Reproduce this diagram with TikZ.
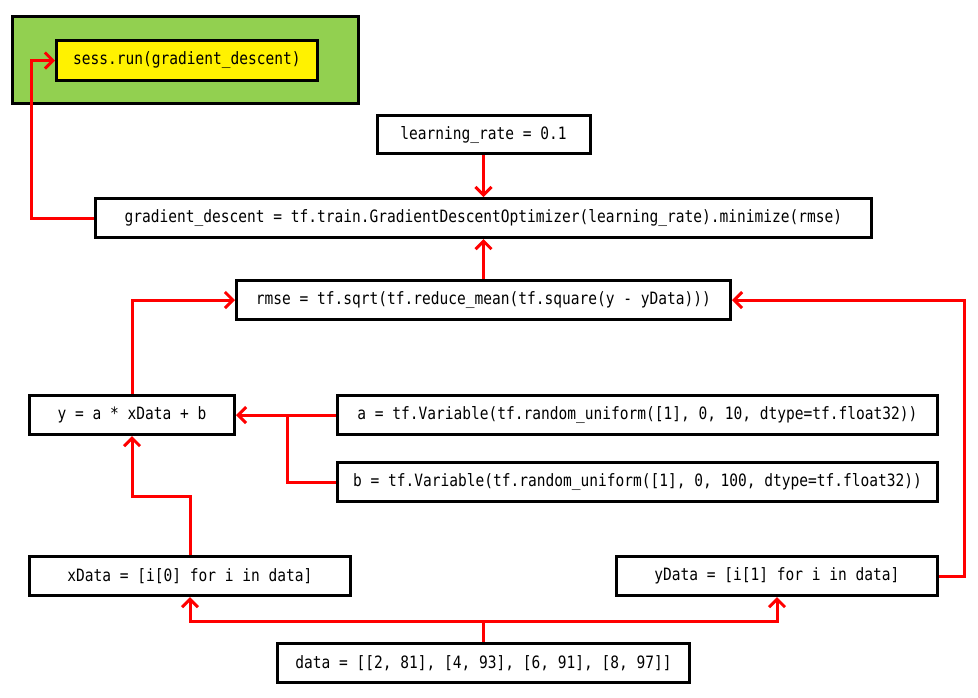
\documentclass[tikz,border=0pt]{standalone}
\usepackage{fontspec}
\setmainfont[FakeStretch=0.855]{DejaVu Sans Mono}
\usetikzlibrary{arrows.meta}
\definecolor{boxgreen}{RGB}{146,208,80}
\begin{document}
\begin{tikzpicture}[x=1pt,y=-1pt,
  box/.style={draw=black, line width=3pt, fill=white, inner sep=0pt, align=center,
    font=\fontsize{17}{19}\selectfont},
  wire/.style={draw=red, line width=3pt},
  flow/.style={wire, -{Straight Barb[length=8pt,width=16pt]}}]
\useasboundingbox (0,0) rectangle (978,697);
% nodes
\node[box, fill=boxgreen, minimum width=346pt, minimum height=87pt] (grp) at (185.5,60) {};
\node[box, fill=yellow, minimum width=261pt, minimum height=40pt] (run) at (187,60.5) {sess.run(gradient\_descent)};
\node[box, minimum width=213pt, minimum height=38pt] (lr) at (483.5,134.5) {learning\_rate = 0.1};
\node[box, minimum width=776pt, minimum height=39pt] (gd) at (483.5,218) {gradient\_descent = tf.train.GradientDescentOptimizer(learning\_rate).minimize(rmse)};
\node[box, minimum width=494pt, minimum height=39pt] (rmse) at (483.5,300) {rmse = tf.sqrt(tf.reduce\_mean(tf.square(y - yData)))};
\node[box, minimum width=205pt, minimum height=39pt] (y) at (132,415) {y = a * xData + b};
\node[box, minimum width=600pt, minimum height=39pt] (a) at (637.5,415) {a = tf.Variable(tf.random\_uniform([1], 0, 10, dtype=tf.float32))};
\node[box, minimum width=600pt, minimum height=39pt] (b) at (637.5,482) {b = tf.Variable(tf.random\_uniform([1], 0, 100, dtype=tf.float32))};
\node[box, minimum width=321pt, minimum height=39pt] (xd) at (190,576) {xData = [i[0] for i in data]};
\node[box, minimum width=321pt, minimum height=39pt] (yd) at (777,576) {yData = [i[1] for i in data]};
\node[box, minimum width=412pt, minimum height=39pt] (data) at (483.5,663) {data = [[2, 81], [4, 93], [6, 91], [8, 97]]};
% junction coordinates
\coordinate (jab) at (287,415);
% connectors
\draw[flow] (gd.west) -- ++(-63,0) |- (run.west);
\draw[flow] (lr.south) -- (gd.north);
\draw[flow] (rmse.north) -- (gd.south);
\draw[flow] (y.north) |- (rmse.west);
\draw[flow] (yd.east) -- ++(25,0) |- (rmse.east);
\draw[flow] (a.west) -- (y.east);
\draw[wire] (b.west) -| (jab);
\draw[flow] (xd.north) -- ++(0,-59) -| (y.south);
\draw[flow] (data.north) -- ++(0,-21) -| (xd.south);
\draw[flow] (data.north) -- ++(0,-21) -| (yd.south);
\end{tikzpicture}
\end{document}
